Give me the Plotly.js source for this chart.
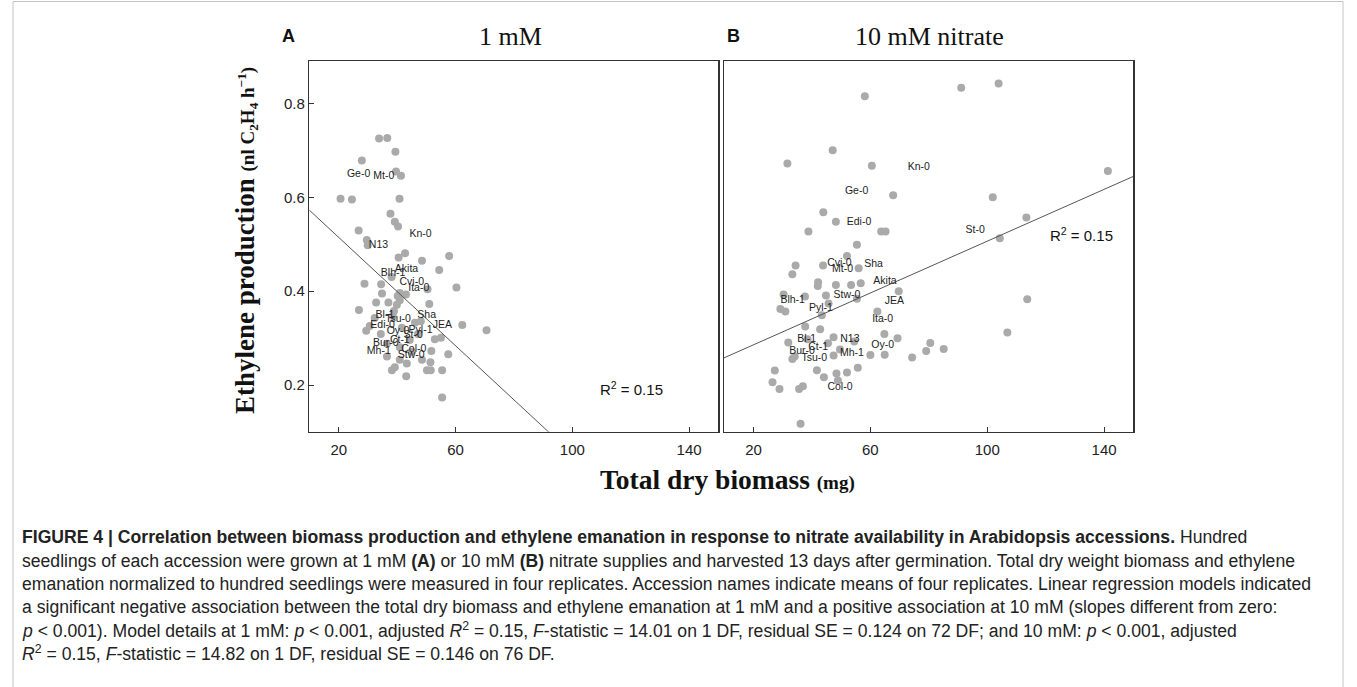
<!DOCTYPE html>
<html>
<head>
<meta charset="utf-8">
<script src="https://cdn.plot.ly/plotly-3.0.1.min.js"></script>
<style>
html,body{margin:0;padding:0;background:#fff;}
#chart{width:1357px;height:687px;}
</style>
</head>
<body>
<div id="chart"></div>
<script>
// ---------- Panel A: 1 mM nitrate (biomass mg, ethylene nl C2H4 h-1) ----------
const biomassA = [33.8,36.6,39.4,27.9,39.6,41.3,20.6,24.5,40.8,37.7,39.2,40.3,26.8,29.6,29.9,40.5,42.7,48.5,57.8,54.4,38.1,28.8,34.5,60.3,50.4,34.8,40.2,40.9,43.0,32.8,37.0,39.9,40.9,51.0,26.9,38.9,62.3,70.6,30.6,29.4,34.4,52.9,55.0,51.7,57.5,36.5,40.9,43.3,48.5,51.4,39.2,38.2,50.2,51.5,55.4,43.1,55.4,46.1,48.1,38.5,47.1,40.9,36.5,44.3,32.3,41.6,45.0];
const ethyleneA = [0.725,0.726,0.697,0.678,0.655,0.646,0.597,0.595,0.597,0.565,0.548,0.538,0.529,0.509,0.498,0.472,0.481,0.465,0.475,0.445,0.430,0.416,0.415,0.408,0.404,0.395,0.390,0.396,0.393,0.376,0.376,0.371,0.381,0.373,0.360,0.358,0.328,0.317,0.326,0.316,0.309,0.298,0.301,0.273,0.266,0.261,0.254,0.246,0.254,0.249,0.238,0.232,0.232,0.232,0.232,0.219,0.174,0.333,0.336,0.347,0.309,0.281,0.288,0.296,0.343,0.322,0.271];
const labelsA  = ["Ge-0","Mt-0","Kn-0","N13","Akita","Blh-1","Cvi-0","Ita-0","Bl-1","Tsu-0","Sha","JEA","Edi-0","Oy-0","Pyl-1","St-0","Ct-1","Bur-0","Mh-1","Col-0","Stw-0"];
const labelsAX = [26.8,35.4,48.0,33.6,43.2,38.6,45.0,47.4,35.8,40.3,50.1,55.5,35.0,40.3,48.0,45.5,40.9,36.1,33.7,45.7,44.8];
const labelsAY = [0.648,0.644,0.522,0.497,0.447,0.438,0.419,0.405,0.348,0.341,0.349,0.328,0.327,0.315,0.316,0.307,0.296,0.288,0.273,0.276,0.264];
const interceptA = 0.6296, slopeA = -0.00576;

// ---------- Panel B: 10 mM nitrate ----------
const biomassB = [58.1,91.1,103.9,47.1,31.6,60.5,141.3,67.8,101.9,43.9,48.2,38.8,63.7,65.2,55.4,52.0,34.4,43.8,33.3,56.0,42.1,42.0,48.2,53.4,56.7,69.7,30.3,37.6,44.8,55.4,45.7,29.2,30.9,43.4,62.4,37.7,42.8,64.8,69.3,31.9,47.4,45.5,54.5,49.6,47.4,60.0,64.9,80.5,79.1,85.1,74.3,33.3,34.1,27.3,26.5,28.9,35.6,36.9,41.7,44.1,48.4,52.0,55.7,48.9,36.1,38.5,113.4,104.3,113.7,106.9];
const ethyleneB = [0.815,0.833,0.842,0.700,0.672,0.667,0.656,0.604,0.600,0.568,0.548,0.527,0.527,0.527,0.499,0.475,0.455,0.455,0.436,0.449,0.419,0.411,0.413,0.413,0.417,0.400,0.393,0.389,0.391,0.384,0.374,0.362,0.357,0.349,0.357,0.325,0.319,0.309,0.300,0.291,0.302,0.289,0.293,0.276,0.263,0.264,0.265,0.290,0.273,0.277,0.259,0.256,0.261,0.231,0.206,0.192,0.192,0.198,0.232,0.217,0.225,0.227,0.237,0.210,0.118,0.298,0.557,0.513,0.383,0.312];
const labelsB  = ["Kn-0","Ge-0","Edi-0","St-0","Cvi-0","Mt-0","Sha","Akita","Stw-0","JEA","Blh-1","Pyl-1","Ita-0","Bl-1","N13","Ct-1","Bur-0","Oy-0","Mh-1","Tsu-0","Col-0"];
const labelsBX = [76.6,55.3,56.1,95.9,49.4,50.5,61.1,65.0,52.0,68.2,33.4,43.1,64.2,38.2,53.0,42.1,36.6,64.2,53.7,40.8,49.6];
const labelsBY = [0.664,0.612,0.547,0.529,0.459,0.446,0.458,0.421,0.391,0.379,0.381,0.364,0.341,0.298,0.298,0.281,0.272,0.285,0.268,0.257,0.196];
const interceptB = 0.2308, slopeB = 0.002757;

const r2A = "0.15", r2B = "0.15";
const xTicks = [20,60,100,140];
const yTicks = [0.2,0.4,0.6,0.8];
const xRange = [9.9,150];
const yRange = [0.101,0.890];

// ---------- layout helpers ----------
const W = 1357, H = 687;
const px = v => v / W;
const py = v => 1 - v / H;

const sans = "Liberation Sans, Arial, Helvetica, sans-serif";
const serif = "Liberation Serif, Times New Roman, serif";
const dotColor = "#aaaaaa";
const lineEnds = [xRange[0], xRange[1]];

const traces = [
  {x: biomassA, y: ethyleneA, xaxis:'x', yaxis:'y', mode:'markers', type:'scatter',
   marker:{color:dotColor, size:8, line:{width:0}}},
  {x: lineEnds, y: lineEnds.map(v => interceptA + slopeA*v), xaxis:'x', yaxis:'y', mode:'lines', type:'scatter',
   line:{color:'#555', width:1}},
  {x: labelsAX, y: labelsAY, text: labelsA, xaxis:'x', yaxis:'y', mode:'text', type:'scatter',
   textposition:'middle center', textfont:{family:sans, size:10.5, color:'#222'}},
  {x: biomassB, y: ethyleneB, xaxis:'x2', yaxis:'y2', mode:'markers', type:'scatter',
   marker:{color:dotColor, size:8, line:{width:0}}},
  {x: lineEnds, y: lineEnds.map(v => interceptB + slopeB*v), xaxis:'x2', yaxis:'y2', mode:'lines', type:'scatter',
   line:{color:'#555', width:1}},
  {x: labelsBX, y: labelsBY, text: labelsB, xaxis:'x2', yaxis:'y2', mode:'text', type:'scatter',
   textposition:'middle center', textfont:{family:sans, size:10.5, color:'#222'}}
];

const axisCommon = {
  showgrid:false, zeroline:false, showline:true, mirror:true,
  linecolor:'#333', linewidth:1.5,
  ticks:'inside', ticklen:5, tickwidth:1, tickcolor:'#333',
  tickfont:{family:sans, size:15, color:'#222'}
};
const yDomain = [py(431.7), py(61)];

const captionLines = [
  "<b>FIGURE 4 | Correlation between biomass production and ethylene emanation in response to nitrate availability in Arabidopsis accessions.</b> Hundred",
  "seedlings of each accession were grown at 1 mM <b>(A)</b> or 10 mM <b>(B)</b> nitrate supplies and harvested 13 days after germination. Total dry weight biomass and ethylene",
  "emanation normalized to hundred seedlings were measured in four replicates. Accession names indicate means of four replicates. Linear regression models indicated",
  "a significant negative association between the total dry biomass and ethylene emanation at 1 mM and a positive association at 10 mM (slopes different from zero:",
  "<i>p</i> < 0.001). Model details at 1 mM: <i>p</i> < 0.001, adjusted <i>R</i><sup>2</sup> = 0.15, <i>F</i>-statistic = 14.01 on 1 DF, residual SE = 0.124 on 72 DF; and 10 mM: <i>p</i> < 0.001, adjusted",
  "<i>R</i><sup>2</sup> = 0.15, <i>F</i>-statistic = 14.82 on 1 DF, residual SE = 0.146 on 76 DF."
];
const captionY = [537, 561, 584, 607, 630, 653];

const annotations = [
  {xref:'paper', yref:'paper', x:px(288), y:py(36), text:'<b>A</b>', showarrow:false,
   font:{family:sans, size:18, color:'#111'}, xanchor:'center', yanchor:'middle'},
  {xref:'paper', yref:'paper', x:px(510), y:py(36), text:'1 mM', showarrow:false,
   font:{family:serif, size:26, color:'#111'}, xanchor:'center', yanchor:'middle'},
  {xref:'paper', yref:'paper', x:px(733), y:py(36), text:'<b>B</b>', showarrow:false,
   font:{family:sans, size:18, color:'#111'}, xanchor:'center', yanchor:'middle'},
  {xref:'paper', yref:'paper', x:px(929), y:py(36), text:'10 mM nitrate', showarrow:false,
   font:{family:serif, size:26, color:'#111'}, xanchor:'center', yanchor:'middle'},
  {xref:'paper', yref:'paper', x:px(246), y:py(241), textangle:-90, showarrow:false,
   text:"<b>Ethylene production</b> <span style='font-size:19px'><b>(nl C<sub>2</sub>H<sub>4</sub> h<sup>−1</sup>)</b></span>",
   font:{family:serif, size:27, color:'#111'}, xanchor:'center', yanchor:'middle'},
  {xref:'paper', yref:'paper', x:px(727), y:py(479), showarrow:false,
   text:"<b>Total dry biomass</b> <span style='font-size:19px'><b>(mg)</b></span>",
   font:{family:serif, size:27.5, color:'#111'}, xanchor:'center', yanchor:'middle'},
  {xref:'x', yref:'y', x:120.1, y:0.194, text:'R<sup>2</sup> = '+r2A, showarrow:false,
   font:{family:sans, size:15, color:'#111'}, xanchor:'center', yanchor:'middle'},
  {xref:'x2', yref:'y2', x:132.2, y:0.520, text:'R<sup>2</sup> = '+r2B, showarrow:false,
   font:{family:sans, size:15, color:'#111'}, xanchor:'center', yanchor:'middle'}
];
captionLines.forEach((t,i) => annotations.push({
  xref:'paper', yref:'paper', x:px(20), y:py(captionY[i]), text:t, showarrow:false,
  xanchor:'left', yanchor:'middle', align:'left',
  font:{family:sans, size:17.6, color:'#222'}
}));

const layout = {
  width:W, height:H, margin:{l:0,r:0,t:0,b:0},
  paper_bgcolor:'#fff', plot_bgcolor:'#fff', showlegend:false, hovermode:false,
  xaxis: Object.assign({}, axisCommon, {domain:[px(309.3), px(718.3)], range:xRange, tickvals:xTicks, anchor:'y', ticklabelstandoff:4}),
  yaxis: Object.assign({}, axisCommon, {domain:yDomain, range:yRange, tickvals:yTicks, tickformat:'.1f', anchor:'x'}),
  xaxis2: Object.assign({}, axisCommon, {domain:[px(724), px(1133.3)], range:xRange, tickvals:xTicks, anchor:'y2', ticklabelstandoff:4}),
  yaxis2: Object.assign({}, axisCommon, {domain:yDomain, range:yRange, ticks:'', showticklabels:false, anchor:'x2'}),
  annotations: annotations,
  shapes: [
    {type:'rect', xref:'paper', yref:'paper', x0:px(13), x1:px(1343), y0:py(700), y1:py(1.5),
     line:{color:'#c4c4c4', width:1}, fillcolor:'rgba(0,0,0,0)'}
  ]
};

Plotly.newPlot('chart', traces, layout, {staticPlot:true, displayModeBar:false});
</script>
</body>
</html>
